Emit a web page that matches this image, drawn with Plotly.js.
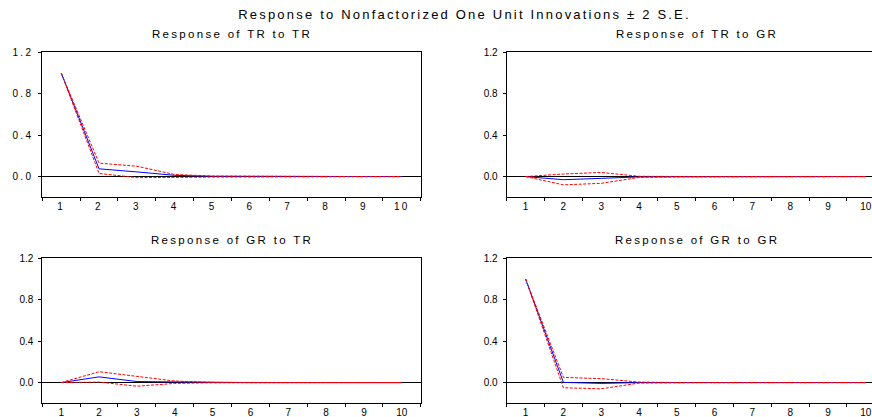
<!DOCTYPE html>
<html><head><meta charset="utf-8">
<script src="https://cdn.plot.ly/plotly-3.0.1.min.js"></script>
<style>
html,body{margin:0;padding:0;overflow:hidden;background:#fff;}
#chart{width:890px;height:417px;}
.gtitle{letter-spacing:2.2px;}
.annotation-text{letter-spacing:2.3px;}
.xtick text,.ytick text{letter-spacing:2.3px;}
</style></head><body><div id="chart"></div>
<script>
// ---- data ----
const periods = [1, 2, 3, 4, 5, 6, 7, 8, 9, 10];
const periodLabels = ["1", "2", "3", "4", "5", "6", "7", "8", "9", "10"];
const yTickVals = [0.0, 0.4, 0.8, 1.2];
const yTickText = ["0.0", "0.4", "0.8", "1.2"];

const panelTitles = ["Response of TR to TR", "Response of TR to GR", "Response of GR to TR", "Response of GR to GR"];
const mainTitle = "Response to Nonfactorized One Unit Innovations \u00b1 2 S.E.";

// Response of TR to TR
const trtrResp  = [1.0, 0.075, 0.045, 0.012, 0.003, 0.001, 0.0, 0.0, 0.0, 0.0];
const trtrUpper = [1.0, 0.130, 0.100, 0.020, 0.005, 0.002, 0.001, 0.0, 0.0, 0.0];
const trtrLower = [1.0, 0.030, -0.010, -0.005, -0.005, -0.004, -0.003, -0.001, 0.0, 0.0];
// Response of TR to GR
const trgrResp  = [0.0, -0.030, -0.017, -0.003, -0.001, 0.0, 0.0, 0.0, 0.0, 0.0];
const trgrUpper = [0.0, 0.025, 0.040, 0.003, 0.001, 0.0, 0.0, 0.0, 0.0, 0.0];
const trgrLower = [0.0, -0.080, -0.065, -0.008, -0.004, -0.003, -0.002, -0.001, 0.0, 0.0];
// Response of GR to TR
const grtrResp  = [0.0, 0.055, 0.010, 0.005, 0.0, 0.0, 0.0, 0.0, 0.0, 0.0];
const grtrUpper = [0.0, 0.105, 0.060, 0.015, 0.002, 0.0, 0.0, 0.0, 0.0, 0.0];
const grtrLower = [0.0, 0.005, -0.035, -0.008, -0.002, 0.0, 0.0, 0.0, 0.0, 0.0];
// Response of GR to GR
const grgrResp  = [1.0, 0.002, -0.008, 0.0, 0.0, 0.0, 0.0, 0.0, 0.0, 0.0];
const grgrUpper = [1.0, 0.050, 0.038, 0.005, 0.001, 0.0, 0.0, 0.0, 0.0, 0.0];
const grgrLower = [1.0, -0.050, -0.060, -0.005, -0.002, -0.001, 0.0, 0.0, 0.0, 0.0];

const panels = [
  {resp: trtrResp, up: trtrUpper, lo: trtrLower},
  {resp: trgrResp, up: trgrUpper, lo: trgrLower},
  {resp: grtrResp, up: grtrUpper, lo: grtrLower},
  {resp: grgrResp, up: grgrUpper, lo: grgrLower}
];

// ---- layout geometry ----
const W = 890, H = 417;
const xDomains = [[42.3 / W, 420.7 / W], [506.7 / W, 884.7 / W]];
const yDomains = [[(H - 197.3) / H, (H - 52.3) / H], [(H - 403.3) / H, (H - 258.3) / H]];
const FONT = "Liberation Sans, Arial, sans-serif";

const traces = [];
const layout = {
  width: W, height: H,
  margin: {l: 0, r: 0, t: 0, b: 0},
  paper_bgcolor: "#fff", plot_bgcolor: "#fff",
  showlegend: false,
  font: {family: FONT, color: "#000", size: 10},
  title: {text: mainTitle, font: {family: FONT, size: 13, color: "#000"},
          x: 464.5 / W, xanchor: "center", xref: "paper",
          y: 1 - 14 / H, yanchor: "middle", yref: "container"},
  annotations: []
};

panels.forEach((p, i) => {
  const col = i % 2, row = Math.floor(i / 2);
  const sfx = i === 0 ? "" : String(i + 1);
  const xa = "x" + sfx, ya = "y" + sfx;
  traces.push({x: periods, y: p.resp, xaxis: xa, yaxis: ya, type: "scatter", mode: "lines",
               line: {color: "#0000ff", width: 1}, hoverinfo: "skip"});
  traces.push({x: periods, y: p.up, xaxis: xa, yaxis: ya, type: "scatter", mode: "lines",
               line: {color: "#ff0000", width: 1, dash: "3px,1.5px"}, hoverinfo: "skip"});
  traces.push({x: periods, y: p.lo, xaxis: xa, yaxis: ya, type: "scatter", mode: "lines",
               line: {color: "#ff0000", width: 1, dash: "3px,1.5px"}, hoverinfo: "skip"});
  layout["xaxis" + sfx] = {
    domain: xDomains[col], anchor: ya, range: [0.5, 10.5],
    tickmode: "array", tickvals: periods, ticktext: periodLabels, ticks: "",
    minor: {tickmode: "linear", tick0: 0.5, dtick: 1, ticks: "outside", ticklen: 3, tickcolor: "#000", tickwidth: 1},
    showline: true, mirror: true, linecolor: "#000", linewidth: 1,
    showgrid: false, zeroline: false,
    tickfont: {family: FONT, size: 10, color: "#000"}, fixedrange: true
  };
  layout["yaxis" + sfx] = {
    domain: yDomains[row], anchor: xa, range: [-0.2, 1.2],
    tickmode: "array", tickvals: yTickVals, ticktext: yTickText,
    ticks: "outside", ticklen: 3, tickcolor: "#000", ticklabelstandoff: 3,
    showline: true, mirror: true, linecolor: "#000", linewidth: 1,
    showgrid: false, zeroline: true, zerolinecolor: "#000", zerolinewidth: 1,
    tickfont: {family: FONT, size: 10, color: "#000"}, fixedrange: true
  };
  layout.annotations.push({
    text: panelTitles[i], xref: "paper", yref: "paper",
    x: (xDomains[col][0] + xDomains[col][1]) / 2 + 1 / W,
    y: row === 0 ? (H - 34.3) / H : (H - 240) / H,
    xanchor: "center", yanchor: "middle", showarrow: false,
    font: {family: FONT, size: 11.5, color: "#000"}
  });
});

Plotly.newPlot("chart", traces, layout, {staticPlot: true, displayModeBar: false});
</script></body></html>
